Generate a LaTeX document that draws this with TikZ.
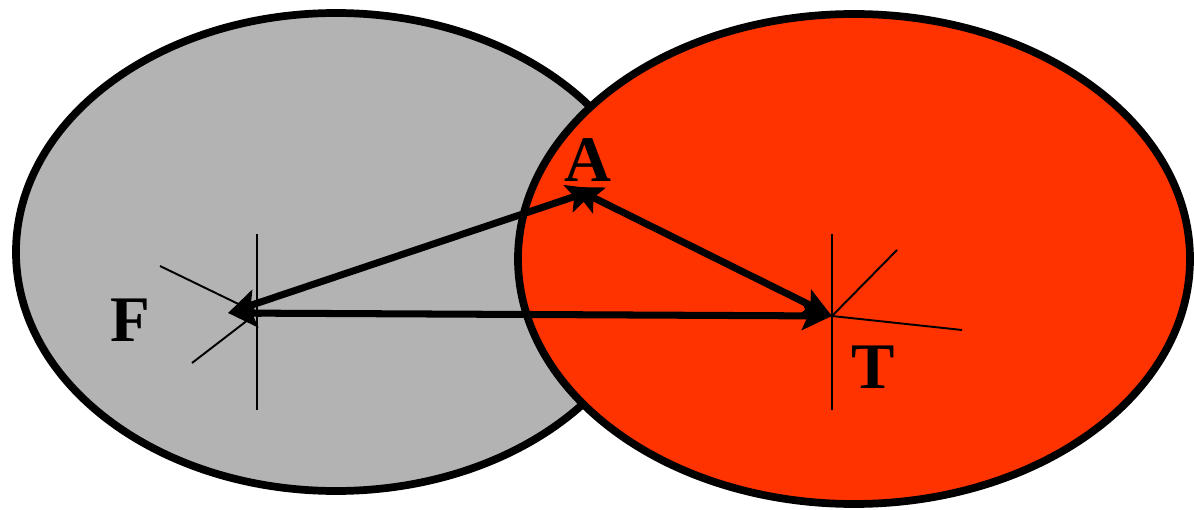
\documentclass[tikz,border=0pt]{standalone}
\usepackage{fontspec}
\setmainfont{Liberation Serif}
\usetikzlibrary{arrows.meta}

\definecolor{ovalgray}{RGB}{179,179,179}
\definecolor{ovalred}{RGB}{255,51,0}

\begin{document}
\begin{tikzpicture}[
      x=0.02cm,y=-0.02cm,
      oval/.style={draw=black,line width=4.4pt},
      hair/.style={draw=black,line width=1.1pt},
      arrow/.style={{Stealth[length=0.6cm,width=0.56cm,inset=0.12cm]}-{Stealth[length=0.6cm,width=0.56cm,inset=0.12cm]},line width=4pt},
      lbl/.style={font=\fontsize{37}{40}\selectfont\bfseries,inner sep=0pt}
    ]
    \useasboundingbox (0,0) rectangle (1194,510);
    % the two regions
    \draw[oval,fill=ovalgray] (336,252) ellipse [x radius=320,y radius=239];
    \coordinate (F) at (257,313);
    \coordinate (Ftip) at (228,313);
    \draw[hair] (257,234) -- (257,410);
    \draw[hair] (160,266) -- (F);
    \draw[hair] (192,363) -- (F);
    \draw[oval,fill=ovalred] (854,259) ellipse [x radius=336,y radius=245];
    \coordinate (T) at (832,316);
    \draw[hair] (832,234) -- (832,410);
    \draw[hair] (T) -- (897,250);
    \draw[hair] (T) -- (962,330);
    \coordinate (Aleft) at (572,187);
    \coordinate (Aright) at (597,189);
    % labels
    \node[lbl] (Flbl) at (130,320) {F};
    \node[lbl] (Albl) at (588,160) {A};
    \node[lbl] (Tlbl) at (873,367) {T};
    % connectors
    \draw[arrow] (Ftip) -- (T);
    \draw[arrow] (Ftip) -- (Aright);
    \draw[arrow] (Aleft) -- (T);
  \end{tikzpicture}
\end{document}
